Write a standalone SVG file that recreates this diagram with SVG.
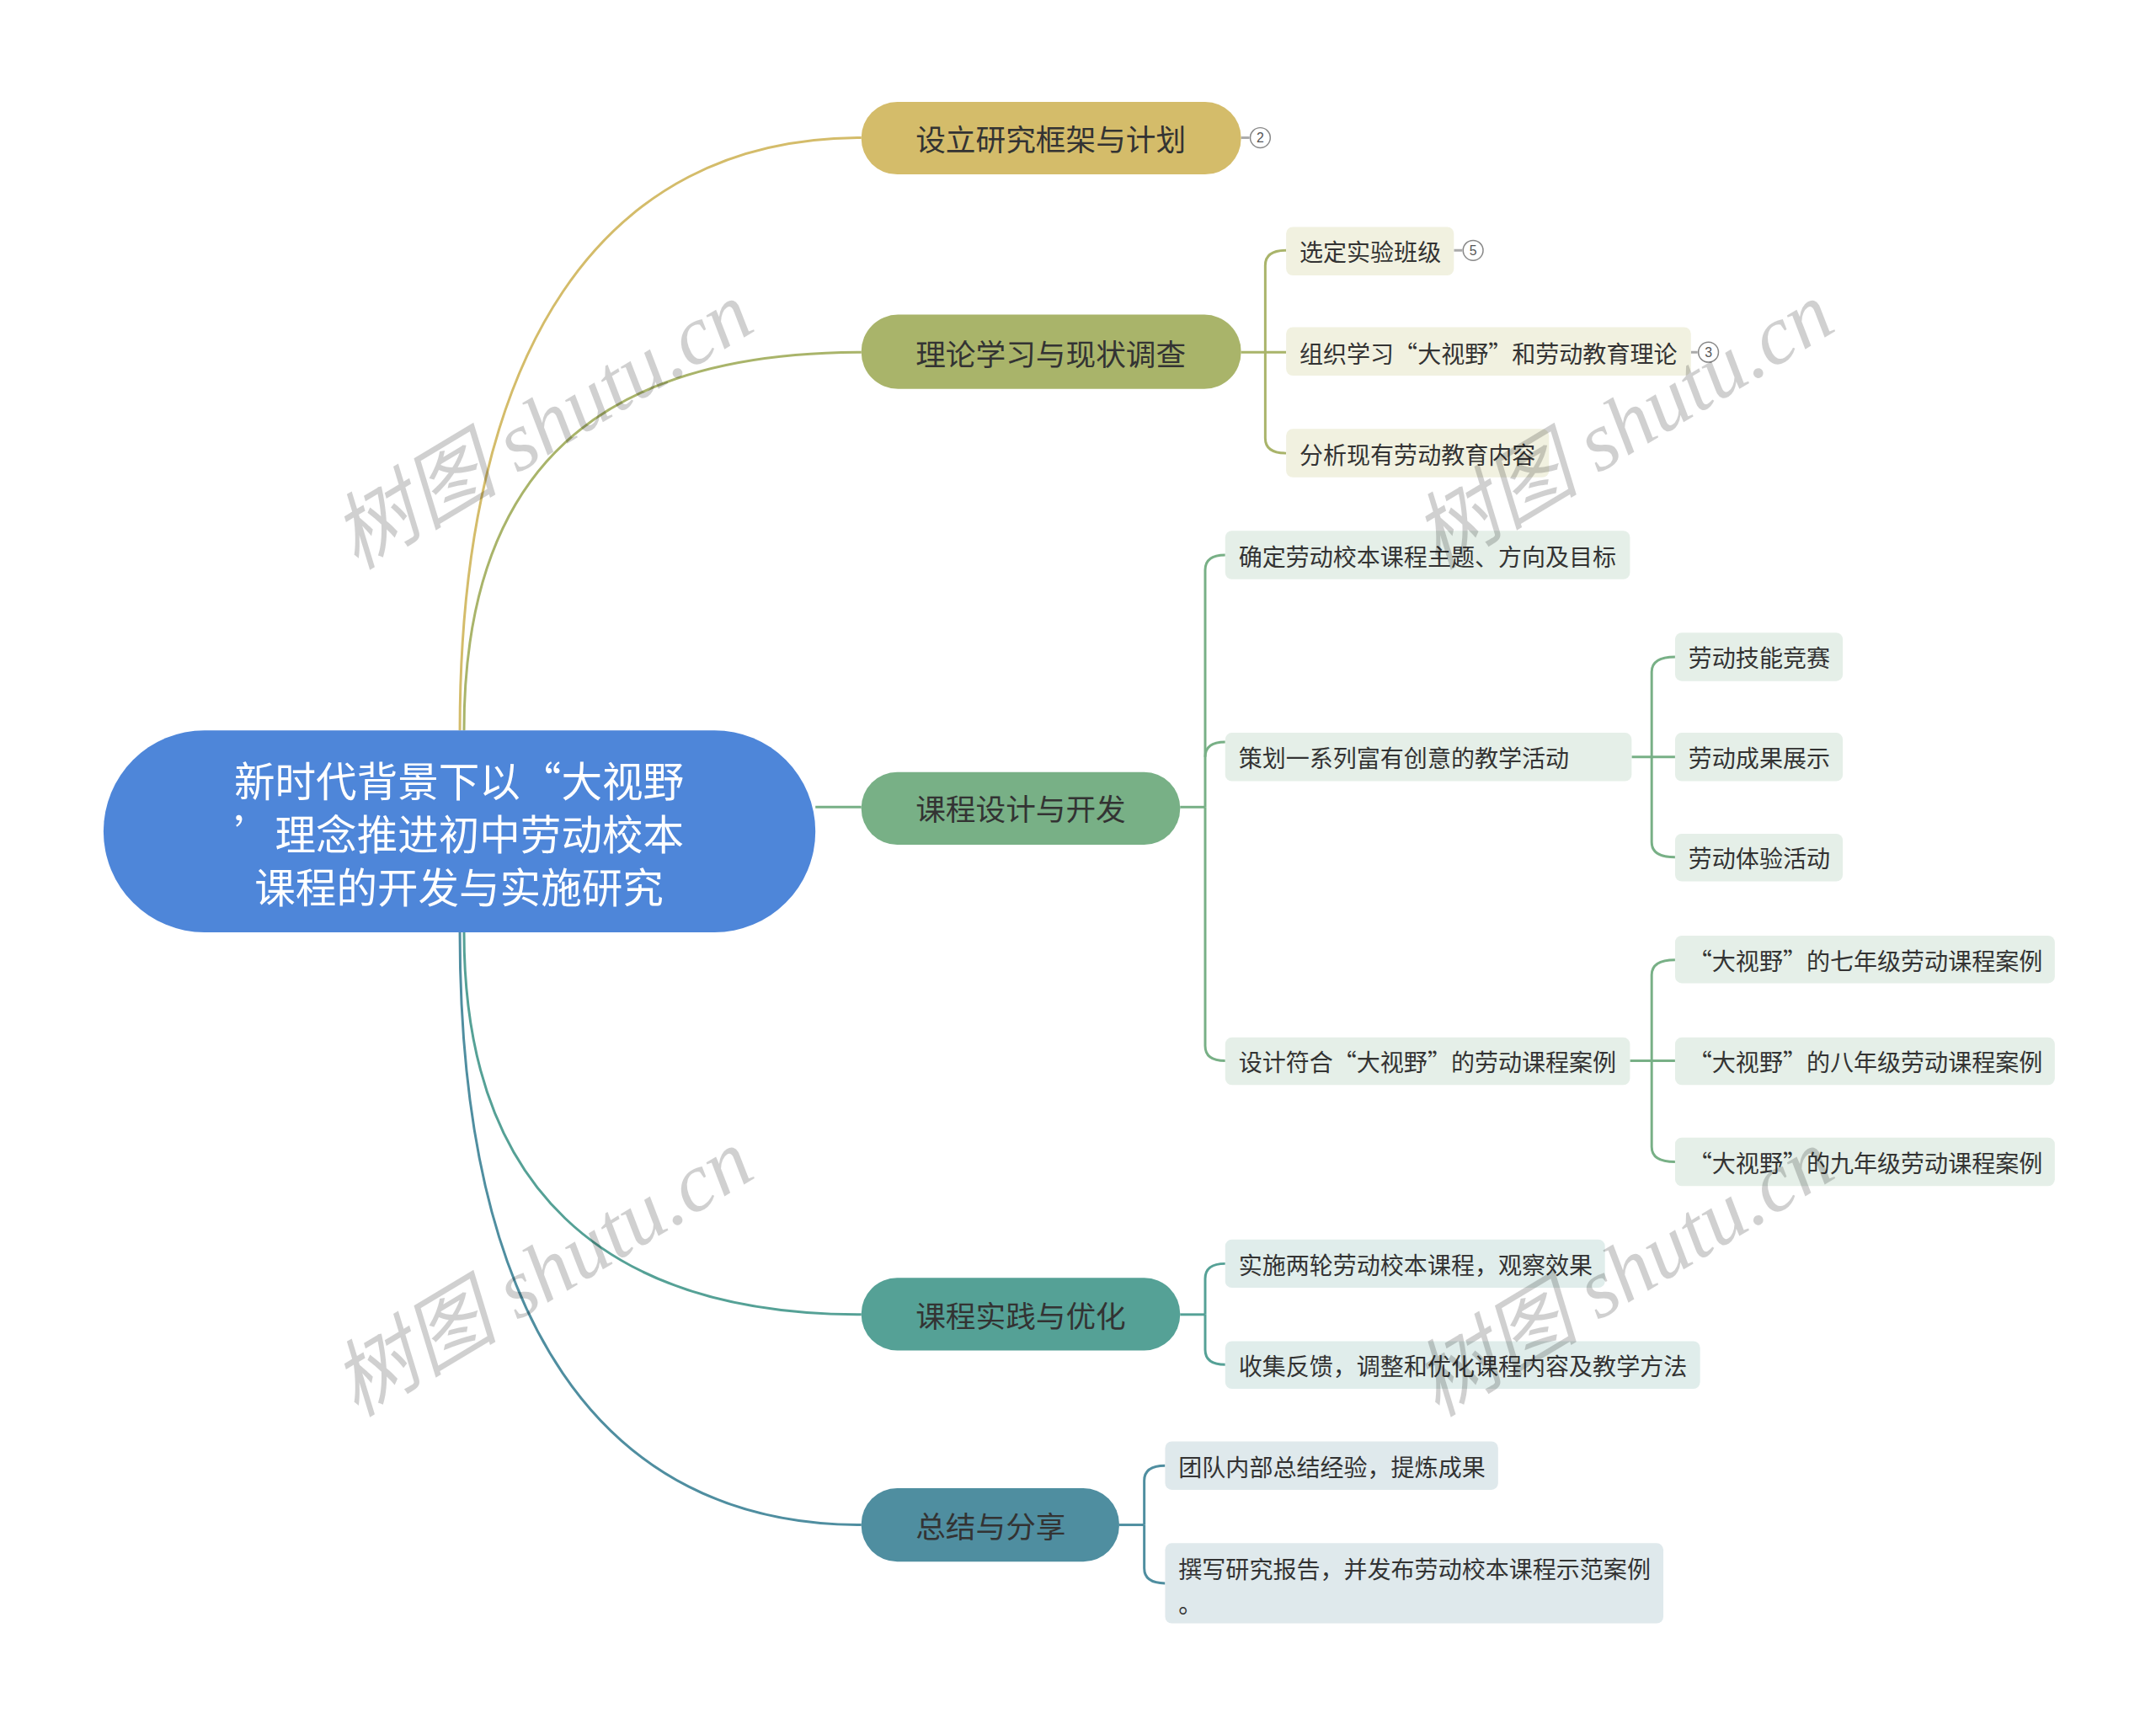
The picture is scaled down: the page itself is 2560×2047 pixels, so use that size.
<svg xmlns="http://www.w3.org/2000/svg" width="2560" height="2047" viewBox="0 0 2560 2047">
<style>
text{font-family:"Noto Sans CJK SC","Liberation Sans",sans-serif;dominant-baseline:central}
.m{font-size:36px;fill:#333;text-anchor:middle}
.s{font-size:28.3px;fill:#333}
.r{font-size:49px;fill:#fff;text-anchor:middle}
.c{fill:none;stroke-width:3}
.wm{font-family:"Liberation Serif","Noto Sans CJK SC",serif;font-size:100px;font-style:italic;fill:#000;opacity:0.18}
.num{fill:#fff;stroke:#888;stroke-width:1.5}
.nt{font-family:"Liberation Sans",sans-serif;font-size:16px;fill:#555;text-anchor:middle}
</style>
<rect width="2560" height="2047" fill="#fff"/>
<g transform="scale(0.991)">
<g id="connectors">
<path class="c" stroke="#d4bc6a" d="M551,875 C551,420 720,165 1032,165"/>
<path class="c" stroke="#a9b46a" d="M556,875 C556,560 720,422 1032,422"/>
<path class="c" stroke="#78b086" d="M977,967 H1032"/>
<path class="c" stroke="#55a196" d="M556,1117 C556,1420 720,1575 1032,1575"/>
<path class="c" stroke="#4f8ea0" d="M551,1117 C551,1580 720,1827 1032,1827"/>
<path class="c" stroke="#aaa" stroke-width="2" d="M1487,165 H1497"/>
<g stroke="#a9b46a" class="c"><path d="M1487,422 H1541"/><path d="M1516,422 V318 Q1516,300 1541,300"/><path d="M1516,422 V525 Q1516,543 1541,543"/></g>
<path class="c" stroke="#aaa" stroke-width="2" d="M1742,300 H1752 M2026,422 H2034"/>
<g stroke="#78b086" class="c"><path d="M1414,967 H1444"/><path d="M1444,967 V683 Q1444,665 1468,665"/><path d="M1444,967 V1253 Q1444,1271 1468,1271"/><path d="M1444,907 Q1444,889 1468,889"/>
<path d="M1955,907 H2007"/><path d="M1979,907 V805 Q1979,787 2007,787"/><path d="M1979,907 V1009 Q1979,1027 2007,1027"/>
<path d="M1953,1271 H2007"/><path d="M1979,1271 V1168 Q1979,1150 2007,1150"/><path d="M1979,1271 V1374 Q1979,1392 2007,1392"/></g>
<g stroke="#55a196" class="c"><path d="M1414,1575 H1444"/><path d="M1444,1575 V1532 Q1444,1514 1468,1514"/><path d="M1444,1575 V1617 Q1444,1635 1468,1635"/></g>
<g stroke="#4f8ea0" class="c"><path d="M1341,1827 H1371"/><path d="M1371,1827 V1774 Q1371,1756 1396,1756"/><path d="M1371,1827 V1879 Q1371,1897 1396,1897"/></g>
</g>
<g id="root"><rect x="124" y="875" width="853" height="242" rx="121" fill="#4e86d9"/>
<text class="r" x="550" y="933">新时代背景下以“大视野</text>
<text class="r" x="550" y="997">’理念推进初中劳动校本</text>
<text class="r" x="550" y="1061">课程的开发与实施研究</text></g>
<g id="n1"><rect x="1032" y="122" width="455" height="87" rx="43" fill="#d4bc6a"/><text class="m" x="1259" y="165">设立研究框架与计划</text>
<circle class="num" cx="1510" cy="165" r="12"/><text class="nt" x="1510" y="165">2</text></g>
<g id="n2"><rect x="1032" y="377" width="455" height="89" rx="44" fill="#a9b46a"/><text class="m" x="1259" y="422">理论学习与现状调查</text></g>
<g id="n3"><rect x="1032" y="925" width="382" height="87" rx="43" fill="#78b086"/><text class="m" x="1223" y="967">课程设计与开发</text></g>
<g id="n4"><rect x="1032" y="1531" width="382" height="87" rx="43" fill="#55a196"/><text class="m" x="1223" y="1575">课程实践与优化</text></g>
<g id="n5"><rect x="1032" y="1783" width="309" height="88" rx="43" fill="#4f8ea0"/><text class="m" x="1187" y="1827">总结与分享</text></g>
<g id="n2a"><rect x="1541" y="272" width="201" height="58" rx="8" fill="#f1f1e0"/><text class="s" x="1557" y="300">选定实验班级</text>
<circle class="num" cx="1765" cy="300" r="12"/><text class="nt" x="1765" y="300">5</text></g>
<g id="n2b"><rect x="1541" y="392" width="485" height="58" rx="8" fill="#f1f1e0"/><text class="s" x="1557" y="422">组织学习“大视野”和劳动教育理论</text>
<circle class="num" cx="2047" cy="422" r="12"/><text class="nt" x="2047" y="422">3</text></g>
<g id="n2c"><rect x="1541" y="514" width="315" height="58" rx="8" fill="#f1f1e0"/><text class="s" x="1557" y="543">分析现有劳动教育内容</text></g>
<g id="n3a"><rect x="1468" y="636" width="485" height="58" rx="8" fill="#e5efe8"/><text class="s" x="1484" y="665">确定劳动校本课程主题、方向及目标</text></g>
<g id="n3b"><rect x="1468" y="878" width="487" height="58" rx="8" fill="#e5efe8"/><text class="s" x="1484" y="907">策划一系列富有创意的教学活动</text></g>
<g id="n3c"><rect x="1468" y="1243" width="485" height="57" rx="8" fill="#e5efe8"/><text class="s" x="1484" y="1271">设计符合“大视野”的劳动课程案例</text></g>
<g id="n3b1"><rect x="2007" y="758" width="201" height="58" rx="8" fill="#e5efe8"/><text class="s" x="2023" y="787">劳动技能竞赛</text></g>
<g id="n3b2"><rect x="2007" y="878" width="201" height="58" rx="8" fill="#e5efe8"/><text class="s" x="2023" y="907">劳动成果展示</text></g>
<g id="n3b3"><rect x="2007" y="999" width="201" height="57" rx="8" fill="#e5efe8"/><text class="s" x="2023" y="1027">劳动体验活动</text></g>
<g id="n3c1"><rect x="2007" y="1121" width="455" height="57" rx="8" fill="#e5efe8"/><text class="s" x="2023" y="1150">“大视野”的七年级劳动课程案例</text></g>
<g id="n3c2"><rect x="2007" y="1243" width="455" height="57" rx="8" fill="#e5efe8"/><text class="s" x="2023" y="1271">“大视野”的八年级劳动课程案例</text></g>
<g id="n3c3"><rect x="2007" y="1363" width="455" height="58" rx="8" fill="#e5efe8"/><text class="s" x="2023" y="1392">“大视野”的九年级劳动课程案例</text></g>
<g id="n4a"><rect x="1468" y="1485" width="455" height="58" rx="8" fill="#e0edeb"/><text class="s" x="1484" y="1514">实施两轮劳动校本课程，观察效果</text></g>
<g id="n4b"><rect x="1468" y="1607" width="569" height="57" rx="8" fill="#e0edeb"/><text class="s" x="1484" y="1635">收集反馈，调整和优化课程内容及教学方法</text></g>
<g id="n5a"><rect x="1396" y="1727" width="399" height="58" rx="8" fill="#dfe9ec"/><text class="s" x="1412" y="1756">团队内部总结经验，提炼成果</text></g>
<g id="n5b"><rect x="1396" y="1849" width="597" height="96" rx="8" fill="#dfe9ec"/><text class="s" x="1412" y="1878">撰写研究报告，并发布劳动校本课程示范案例</text><text class="s" x="1412" y="1920">。</text></g>
<g id="watermarks">
<text class="wm" x="650" y="510" text-anchor="middle" transform="rotate(-31 650 510)">树图 shutu.cn</text>
<text class="wm" x="1945" y="510" text-anchor="middle" transform="rotate(-31 1945 510)">树图 shutu.cn</text>
<text class="wm" x="650" y="1525" text-anchor="middle" transform="rotate(-31 650 1525)">树图 shutu.cn</text>
<text class="wm" x="1945" y="1525" text-anchor="middle" transform="rotate(-31 1945 1525)">树图 shutu.cn</text>
</g>
</g>
</svg>
